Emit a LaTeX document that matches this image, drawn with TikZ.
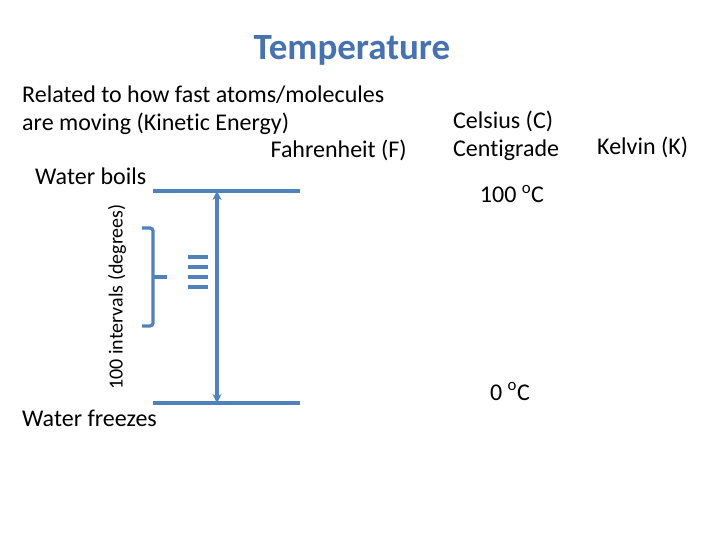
\documentclass[tikz,border=0pt]{standalone}
\usepackage{fontspec}
\setmainfont{Carlito}[Ligatures=NoCommon]
\usetikzlibrary{arrows.meta}
\definecolor{slideblue}{RGB}{79,129,189}
\definecolor{titleblue}{RGB}{70,115,175}
\tikzset{
  txt/.style={font=\fontsize{24}{28}\selectfont, inner sep=0pt},
  bar/.style={draw=slideblue, line width=3.4pt},
  tick/.style={draw=slideblue, line width=3.2pt}
}
\begin{document}
\begin{tikzpicture}[x=1pt,y=-1pt]
  \useasboundingbox (0,0) rectangle (720,540);

  \node[font=\fontsize{37}{42}\bfseries, text=titleblue, inner sep=0pt] (title) at (352,50) {Temperature};

  \node[txt, anchor=base west] (rel1) at (22,103) {Related to how fast atoms/molecules};
  \node[txt, anchor=base west] (rel2) at (22,131) {are moving (Kinetic Energy)};
  \node[txt, anchor=base east] (fahr) at (407,158) {Fahrenheit (F)};
  \node[txt, anchor=base west] (boils) at (35,185) {Water boils};
  \node[txt, anchor=base west] (freezes) at (22,426) {Water freezes};
  \node[font=\fontsize{20}{24}\selectfont, inner sep=0pt, rotate=90] (intervals) at (117,297) {100 intervals (degrees)};

  \node[txt, anchor=base west] (cels) at (453,129) {Celsius (C)};
  \node[txt, anchor=base west] (centi) at (453,157) {Centigrade};
  \node[txt, anchor=base west] (kelv) at (597,155) {Kelvin (K)};
  \node[txt, anchor=base] (hundred) at (512,203) {100 \textsuperscript{o}C};
  \node[txt, anchor=base] (zero) at (510,400) {0 \textsuperscript{o}C};

  % boiling and freezing lines
  \coordinate (topL) at (153,191);
  \coordinate (topR) at (300,191);
  \coordinate (botL) at (153,403);
  \coordinate (botR) at (300,403);
  \coordinate (topM) at (217,191);
  \coordinate (botM) at (217,403);
  \draw[bar] (topL) -- (topR);
  \draw[bar] (botL) -- (botR);
  \draw[bar, {Stealth[length=9pt,width=9pt]}-{Stealth[length=9pt,width=9pt]}] (topM) -- (botM);

  % brace
  \coordinate (brA) at (142,228);
  \coordinate (brB) at (142,326);
  \coordinate (brM) at (167,277);
  \draw[tick, rounded corners=3pt] (brA) -- (153,228) -- (153,326) -- (brB);
  \draw[tick] (153,277) -- (brM);

  % tick marks
  \foreach \y in {257,267,277,287}
    \draw[tick] (188,\y) -- (208,\y);
\end{tikzpicture}
\end{document}
